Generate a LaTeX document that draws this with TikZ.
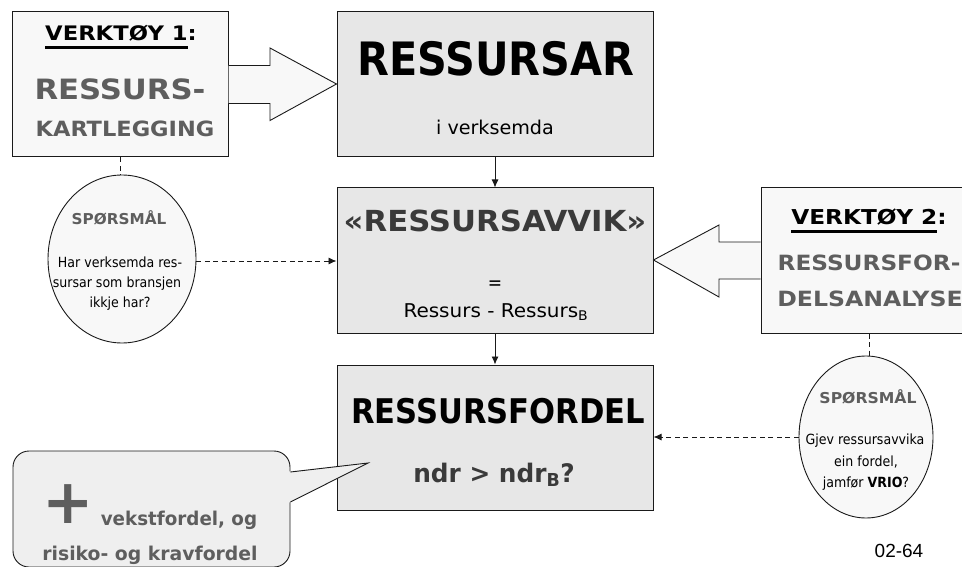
\documentclass[tikz,border=0pt]{standalone}
\usepackage{graphicx}
\usepackage{fontspec}
\setmainfont{DejaVu Sans Condensed}
\newfontfamily\figfont{Liberation Sans}
\usetikzlibrary{shapes.geometric,arrows.meta}
\definecolor{boxgray}{HTML}{E7E7E7}
\definecolor{toolfill}{HTML}{F8F8F8}
\definecolor{notefill}{HTML}{EFEFEF}
\definecolor{headgray}{HTML}{5E5E5E}
\definecolor{darktext}{HTML}{3A3A3A}
\definecolor{edge}{HTML}{1A1A1A}
% bold heading with a thick rule underneath
\newcommand\toolul[1]{\setbox0\hbox{#1}\rlap{\rule[-8pt]{\wd0}{2.5pt}}\box0}
\newcommand\fsz[1]{\fontsize{#1}{#1}\selectfont}
% horizontally widened text
\newcommand\wide[2]{\scalebox{#1}[1]{#2}}

\begin{document}
\begin{tikzpicture}[x=1pt,y=-1pt,
  box/.style={draw=edge, line width=1pt, fill=boxgray, minimum width=316pt, minimum height=145pt, inner sep=0pt},
  tool/.style={draw=edge, line width=1pt, fill=toolfill, minimum width=216pt, minimum height=145pt, inner sep=0pt},
  question/.style={ellipse, draw=edge, line width=0.9pt, fill=toolfill, inner sep=0pt},
  flow/.style={-{Latex[length=8pt,width=7pt]}, line width=0.9pt, draw=edge},
  link/.style={dash pattern=on 5pt off 3.5pt, line width=0.9pt, draw=edge},
  linkarrow/.style={link, -{Latex[length=8pt,width=7pt]}},
  blockarrow/.style={draw=edge, line width=0.9pt, fill=toolfill, line join=miter},
  txt/.style={inner sep=0pt, anchor=base}
]
\useasboundingbox (0,0) rectangle (962,567);

% main boxes
\node[box] (res) at (495,84) {};
\node[box] (avvik) at (495,260.5) {};
\node[box] (fordel) at (495,437.5) {};

% tool boxes
\node[tool] (tool1) at (120,84.5) {};
\node[tool] (tool2) at (869,260.5) {};

% block arrows from the tools
\coordinate (a1tip) at (res.west |- 0,84);
\draw[blockarrow] (tool1.east |- 0,65.5) -- (270,65.5) -- (270,48) -- (a1tip)
  -- (270,120.5) -- (270,103.5) -- (tool1.east |- 0,103.5);
\coordinate (a2tip) at (avvik.east |- 0,260);
\draw[blockarrow] (tool2.west |- 0,242) -- (719,242) -- (719,225) -- (a2tip)
  -- (719,297) -- (719,279) -- (tool2.west |- 0,279);

% flow between main boxes
\draw[flow] (res.south) -- (avvik.north);
\draw[flow] (avvik.south) -- (fordel.north);

% question ellipses
\node[question, minimum width=148pt, minimum height=168pt] (q1) at (122,259) {};
\node[question, minimum width=134pt, minimum height=162pt] (q2) at (866,437) {};
\draw[link] (tool1.south) -- (tool1.south |- q1.north);
\draw[link] (tool2.south) -- (tool2.south |- q2.north);
\draw[linkarrow] (q1.east |- 0,261) -- (avvik.west |- 0,261);
\draw[linkarrow] (q2.west |- 0,437) -- (fordel.east |- 0,437);

% speech bubble
\node[draw=edge, line width=0.9pt, fill=notefill, rounded corners=16pt,
      minimum width=277pt, minimum height=116pt, inner sep=0pt] (note) at (151.5,509) {};
\coordinate (ptip) at (368,463);
\fill[notefill] (289,471.5) -- (ptip) -- (289,502.5) -- cycle;
\draw[edge, line width=0.9pt, line join=miter] (note.east |- 0,472) -- (ptip) -- (note.east |- 0,502);

% texts: tool 1
\node[txt] (t1a) at (121,41) {\fsz{20}\bfseries\wide{1.26}{\toolul{VERKTØY 1}:}};
\node[txt, text=headgray] (t1b) at (120,100) {\fsz{28}\bfseries\wide{1.22}{RESSURS-}};
\node[txt, text=headgray] (t1c) at (125,137) {\fsz{21}\bfseries\wide{1.19}{KARTLEGGING}};

% texts: tool 2
\node[txt] (t2a) at (869,225) {\fsz{20.5}\bfseries\wide{1.26}{\toolul{VERKTØY 2}:}};
\node[txt, text=headgray] (t2b) at (869,270) {\fsz{21}\bfseries\wide{1.23}{RESSURSFOR-}};
\node[txt, text=headgray] (t2c) at (870,306) {\fsz{21}\bfseries\wide{1.25}{DELSANALYSE}};

% texts: main boxes
\node[txt] (r1) at (496,76) {\fsz{46}\bfseries RESSURSAR};
\node[txt] (r2) at (495,135) {\fsz{19}\wide{1.12}{i verksemda}};
\node[txt, text=darktext] (v1) at (495,232) {\fsz{29}\bfseries\wide{1.18}{«RESSURSAVVIK»}};
\node[txt] (v2) at (495,289) {\fsz{19}=};
\node[txt] (v3) at (496,317) {\fsz{19}\wide{1.17}{Ressurs - Ressurs\textsubscript{B}}};
\node[txt] (f1) at (498,423) {\fsz{34}\bfseries RESSURSFORDEL};
\node[txt, text=darktext] (f2) at (494,482) {\fsz{25.5}\bfseries\wide{1.08}{ndr > ndr\textsubscript{B}?}};

% texts: question 1
\node[txt, text=headgray] (q1h) at (119,225) {\fsz{15}\bfseries\wide{1.13}{SPØRSMÅL}};
\node[txt] (q1a) at (120,267) {\fsz{14}Har verksemda res-};
\node[txt] (q1b) at (117,287) {\fsz{14}sursar som bransjen};
\node[txt] (q1c) at (120,307) {\fsz{14}ikkje har?};

% texts: question 2
\node[txt, text=headgray] (q2h) at (868,403) {\fsz{15}\bfseries\wide{1.16}{SPØRSMÅL}};
\node[txt] (q2a) at (865,444) {\fsz{14}Gjev ressursavvika};
\node[txt] (q2b) at (866,466) {\fsz{14}ein fordel,};
\node[txt] (q2c) at (866,487) {\fsz{14}jamfør \textbf{VRIO}?};

% texts: speech bubble
\node[inner sep=0pt, text=headgray] (plus) at (68,504) {\fsz{62}\bfseries\wide{1.1}{+}};
\node[txt, text=headgray] (n1) at (179,525) {\fsz{19}\bfseries\wide{1.07}{vekstfordel, og}};
\node[txt, text=headgray] (n2) at (150,560) {\fsz{19}\bfseries\wide{1.1}{risiko- og kravfordel}};

% figure number
\node[txt] (fig) at (899,557) {\figfont\fsz{19}02-64};
\end{tikzpicture}
\end{document}
